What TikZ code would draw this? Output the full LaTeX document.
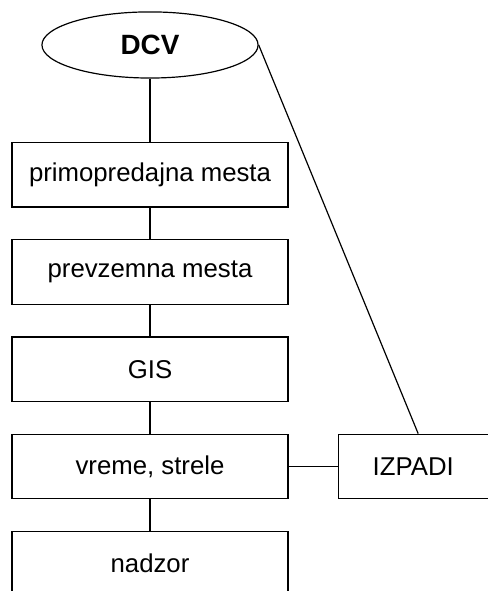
\documentclass[tikz,border=0pt]{standalone}
\usepackage{fontspec}
\setmainfont{Liberation Sans}
\usepackage{tikz}
\usetikzlibrary{positioning,shapes.geometric}

\begin{document}
\begin{tikzpicture}[
  node distance=8.4mm,
  box/.style={rectangle, draw, line width=0.9pt, minimum width=73mm, minimum height=17.0mm, inner sep=0pt, align=center, font=\fontsize{19.4}{23}\selectfont},
  root/.style={ellipse, draw, line width=0.9pt, minimum width=57.2mm, minimum height=17.5mm, inner sep=0pt, font=\fontsize{21}{25}\selectfont\bfseries},
  link/.style={line width=0.9pt}
]
\clip (-39.7mm,11.9mm) rectangle (89.4mm,-144.5mm);
\node[root] (dcv) at (0,0) {DCV};
\node[box, below=16.8mm of dcv] (primo) {primopredajna mesta};
\node[box, below=of primo] (prevzem) {prevzemna mesta};
\node[box, below=of prevzem] (gis) {GIS};
\node[box, below=of gis] (vreme) {vreme, strele};
\node[box, below=of vreme] (nadzor) {nadzor};
\node[box, minimum width=39.7mm, right=13mm of vreme] (izpadi) {IZPADI};
\draw[link] (dcv) -- (primo);
\draw[link] (primo) -- (prevzem);
\draw[link] (prevzem) -- (gis);
\draw[link] (gis) -- (vreme);
\draw[link] (vreme) -- (nadzor);
\draw[link] (vreme) -- (izpadi);
\draw[link] (dcv.east) -- ([xshift=1.3mm]izpadi.north);
\end{tikzpicture}
\end{document}
